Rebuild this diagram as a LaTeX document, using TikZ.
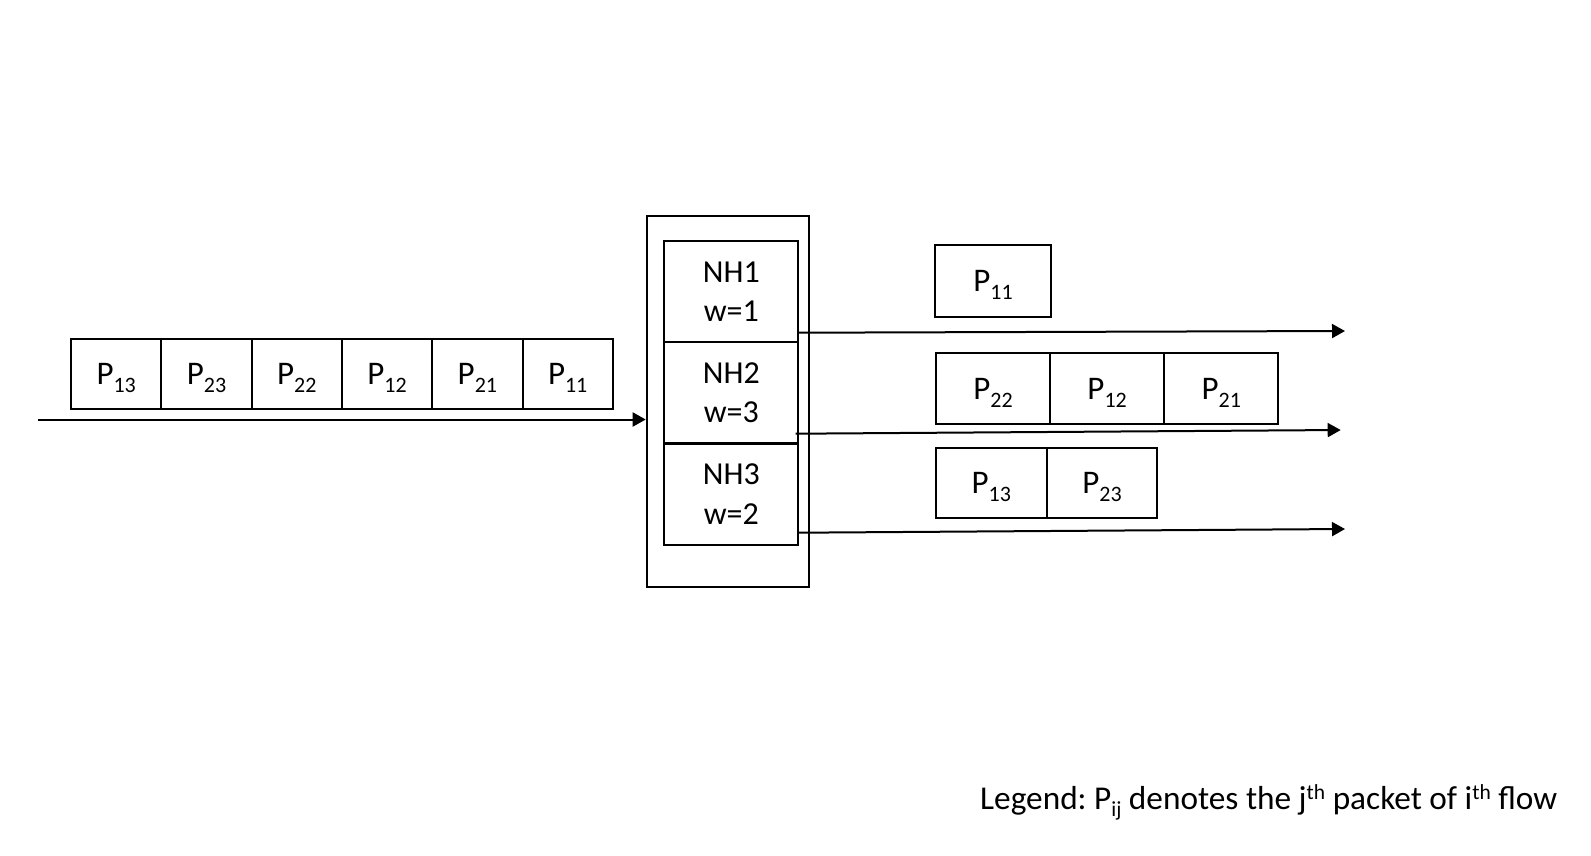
\documentclass[tikz,border=0pt]{standalone}
\usepackage{fontspec}
\setmainfont{Carlito}
\usetikzlibrary{arrows.meta}
\frenchspacing
\newcommand{\pk}[1]{P\raisebox{-8pt}[0pt][0pt]{\fontsize{22}{22}\selectfont #1}}
\newcommand{\supr}[1]{\raisebox{10pt}{\fontsize{21.5}{21.5}\selectfont #1}}
\newcommand{\subr}[1]{\raisebox{-7pt}{\fontsize{21.5}{21.5}\selectfont #1}}
\begin{document}
\begin{tikzpicture}[x=1pt,y=-1pt,
  pcell/.style={draw, line width=2pt, inner sep=0pt, minimum width=#1,
    font=\fontsize{33}{40}\selectfont},
  pcell/.default=90.3pt,
  nhcell/.style={draw, line width=2pt, inner sep=0pt, minimum width=134pt,
    minimum height=101.3pt, align=center,
    font=\fontsize{32}{39.4}\selectfont},
  flow/.style={line width=2pt, -{Triangle[length=13pt,width=14pt]}}]
\useasboundingbox (0,0) rectangle (1591,855);
% input queue
\node[pcell, minimum height=69.7pt] (q1) at (116.2,373.85) {\pk{13}};
\node[pcell, minimum height=69.7pt] (q2) at (206.5,373.85) {\pk{23}};
\node[pcell, minimum height=69.7pt] (q3) at (296.8,373.85) {\pk{22}};
\node[pcell, minimum height=69.7pt] (q4) at (387.1,373.85) {\pk{12}};
\node[pcell, minimum height=69.7pt] (q5) at (477.4,373.85) {\pk{21}};
\node[pcell, minimum height=69.7pt] (q6) at (567.7,373.85) {\pk{11}};
% switch
\node[draw, line width=2pt, minimum width=162.3pt, minimum height=371.3pt, inner sep=0pt] (outer) at (727.85,401.65) {};
\node[nhcell] (nh1) at (731.3,291.5) {NH1\\w=1};
\node[nhcell] (nh2) at (731.3,392.75) {NH2\\w=3};
\node[nhcell] (nh3) at (731.3,494.25) {NH3\\w=2};
% input arrow
\coordinate (in) at (38,419.5);
\draw[flow] (in) -- (in -| outer.west);
% output arrows
\coordinate (s1) at (798,332.7);
\coordinate (e1) at (1345,331);
\coordinate (s2) at (795.7,433.7);
\coordinate (e2) at (1340.7,430);
\coordinate (s3) at (798,532.7);
\coordinate (e3) at (1345,529);
\draw[flow] (s1) -- (e1);
\draw[flow] (s2) -- (e2);
\draw[flow] (s3) -- (e3);
% output queues
\node[pcell=116pt, minimum height=72pt] (r1) at (993,281) {\pk{11}};
\node[pcell=114.1pt, minimum height=70.4pt] (m1) at (993.05,388.5) {\pk{22}};
\node[pcell=114.1pt, minimum height=70.4pt] (m2) at (1107.15,388.5) {\pk{12}};
\node[pcell=114.1pt, minimum height=70.4pt] (m3) at (1221.25,388.5) {\pk{21}};
\node[pcell=110.7pt, minimum height=70pt] (b1) at (991.35,483.3) {\pk{13}};
\node[pcell=110.7pt, minimum height=70pt] (b2) at (1102,483.3) {\pk{23}};
% legend
\node[anchor=base west, inner sep=0pt, font=\fontsize{33.3}{40}\selectfont] (legend) at (980,809)
  {Legend: P\subr{ij} denotes the j\supr{th} packet of i\supr{th} flow};
\end{tikzpicture}
\end{document}
